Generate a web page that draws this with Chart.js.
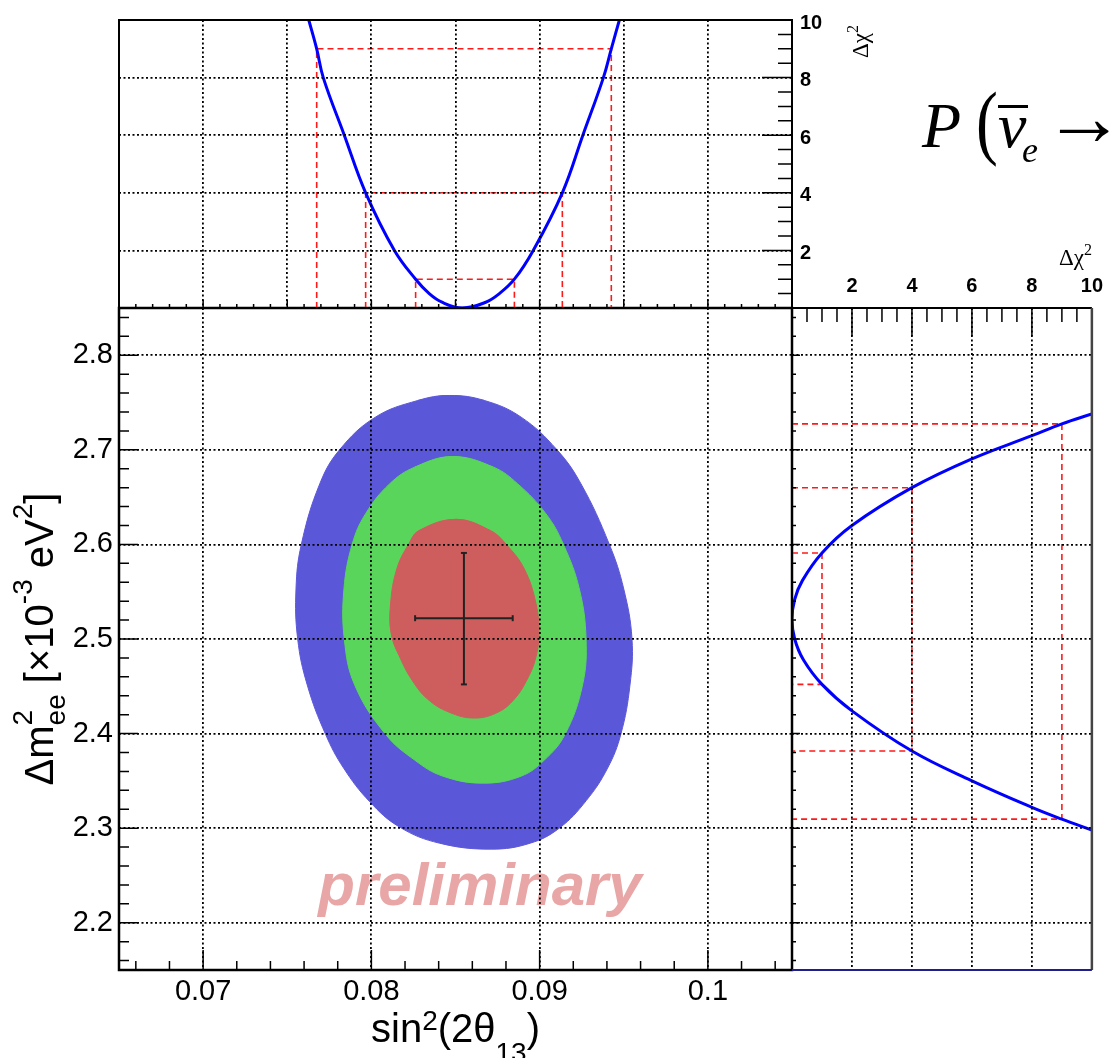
<!DOCTYPE html>
<html>
<head>
<meta charset="utf-8">
<script src="https://cdn.jsdelivr.net/npm/chart.js@4.4.1/dist/chart.umd.min.js"></script>
<style>
  html, body { margin: 0; padding: 0; background: #fff; overflow: hidden; }
  #wrap { position: relative; width: 1113px; height: 1058px; }
  #wrap canvas { position: absolute; left: 0; top: 0; }
</style>
</head>
<body>
<div id="wrap">
  <canvas id="mainChart" width="1113" height="1058"></canvas>
  <canvas id="topChart" width="1113" height="1058"></canvas>
  <canvas id="sideChart" width="1113" height="1058"></canvas>
</div>
<script>
'use strict';

Chart.defaults.font.family = '"Liberation Sans", Arial, sans-serif';
Chart.defaults.color = '#000';

// axis ranges and labelled ticks
const sinRange = [0.065, 0.105];
const dmRange = [2.15, 2.85];
const chiRange = [0, 10];
const sinTicks = [0.07, 0.08, 0.09, 0.1];
const sinTicksTop = [0.07, 0.075, 0.08, 0.085, 0.09, 0.095, 0.1];
const dmTicks = [2.2, 2.3, 2.4, 2.5, 2.6, 2.7, 2.8];
const chiTicks = [2, 4, 6, 8, 10];

// best fit with 1 sigma errors
const bestSin = 0.0855;
const bestDm = 2.522;
const sinErr = [0.0826, 0.0884];
const dmErr = [2.452, 2.591];

// allowed regions, 3 sigma / 2 sigma / 1 sigma (clockwise from the top)
const c3Sin = [0.08464, 0.08672, 0.08890, 0.09102, 0.09246, 0.09414, 0.09500, 0.09549, 0.09537, 0.09483,
  0.09404, 0.09277, 0.09117, 0.08944, 0.08712, 0.08405, 0.08168, 0.07990, 0.07835, 0.07727,
  0.07619, 0.07562, 0.07552, 0.07584, 0.07693, 0.07812, 0.08024, 0.08276];
const c3Dm = [2.7575, 2.7522, 2.7346, 2.7003, 2.6640, 2.6002, 2.5529, 2.5000, 2.4513, 2.3995,
  2.3635, 2.3291, 2.3000, 2.2841, 2.2778, 2.2841, 2.3011, 2.3280, 2.3635, 2.3995,
  2.4513, 2.5000, 2.5529, 2.6002, 2.6640, 2.7003, 2.7346, 2.7522];
const c2Sin = [0.08484, 0.08726, 0.08870, 0.09038, 0.09141, 0.09236, 0.09276, 0.09255, 0.09152, 0.09028,
  0.08890, 0.08666, 0.08425, 0.08257, 0.08083, 0.07901, 0.07839, 0.07837, 0.07886, 0.07965,
  0.08108, 0.08257];
const c2Dm = [2.6929, 2.6817, 2.6640, 2.6323, 2.6002, 2.5529, 2.5000, 2.4513, 2.3995, 2.3720,
  2.3550, 2.3476, 2.3550, 2.3720, 2.3995, 2.4513, 2.5000, 2.5529, 2.6002, 2.6323,
  2.6640, 2.6817];
const c1Sin = [0.08504, 0.08708, 0.08801, 0.08909, 0.08979, 0.08996, 0.08975, 0.08921, 0.08850, 0.08755,
  0.08613, 0.08459, 0.08334, 0.08245, 0.08174, 0.08118, 0.08114, 0.08151, 0.08221, 0.08283];
const c1Dm = [2.6265, 2.6146, 2.6002, 2.5741, 2.5370, 2.5053, 2.4788, 2.4556, 2.4365, 2.4228,
  2.4164, 2.4228, 2.4365, 2.4556, 2.4788, 2.5053, 2.5370, 2.5741, 2.6002, 2.6146];

// 1D delta chi2 profiles
const profSin = [0.07628, 0.07675, 0.07714, 0.07839, 0.07966, 0.08137, 0.08263, 0.08344, 0.0842,
  0.08542, 0.0868, 0.08761, 0.0885, 0.08962, 0.09135, 0.09257, 0.09379, 0.09426, 0.09474];
const profSinChi = [10, 9, 8, 6, 4, 2, 1, 0.5, 0.2, 0, 0.2, 0.5, 1, 2, 4, 6, 8, 9, 10];
const profDm = [2.738, 2.7275, 2.715, 2.6905, 2.660, 2.620, 2.591, 2.562, 2.542, 2.521, 2.500, 2.478,
  2.452, 2.424, 2.3815, 2.350, 2.322, 2.3095, 2.298];
const profDmChi = [10, 9, 8, 6, 4, 2, 1, 0.35, 0.09, 0, 0.09, 0.38, 1, 2, 4, 6, 8, 9, 10];

// crossings at delta chi2 = 1, 4, 9
const chiLevels = [1, 4, 9];
const sinLow = [0.08263, 0.07966, 0.07675];
const sinHigh = [0.0885, 0.09135, 0.09426];
const dmLow = [2.452, 2.3815, 2.3095];
const dmHigh = [2.591, 2.660, 2.7275];

const BLUE_FILL = '#5b57d9';
const GREEN_FILL = '#58d55a';
const RED_FILL = '#ce5e5e';

function pts(xs, ys) {
  return xs.map((x, i) => ({ x: x, y: ys[i] }));
}

// wrap one point on each side so the spline has no corner where the loop closes
function closed(xs, ys) {
  const p = pts(xs, ys);
  return [p[p.length - 1]].concat(p, [p[0], p[1]]);
}

function fixedTicks(values) {
  return scale => { scale.ticks = values.map(v => ({ value: v })); };
}

function region(xs, ys, color) {
  return {
    data: closed(xs, ys), showLine: true, fill: 'shape', tension: 0.4,
    backgroundColor: color, borderColor: color, borderWidth: 1, pointRadius: 0
  };
}

function dashed(points) {
  return {
    data: points, showLine: true, borderColor: '#ff1a1a', borderWidth: 1.6,
    borderDash: [6, 4], pointRadius: 0, tension: 0
  };
}

const dottedGrid = { color: '#000', lineWidth: 1.8, drawTicks: false, z: 1 };
const gridBorder = { display: false, dash: [2, 2.5] };

// inward tick marks; i runs over integer multiples of step
function tickMarks(ctx, scale, from, to, step, majorEvery, edge, majorLen, minorLen, dir) {
  ctx.beginPath();
  for (let i = from; i <= to; i++) {
    const p = scale.getPixelForValue(i * step);
    const len = i % majorEvery === 0 ? majorLen : minorLen;
    if (scale.isHorizontal()) {
      ctx.moveTo(p, edge);
      ctx.lineTo(p, edge + dir * len);
    } else {
      ctx.moveTo(edge, p);
      ctx.lineTo(edge + dir * len, p);
    }
  }
  ctx.stroke();
}

// text with super/subscripts, drawn around the origin on baseline y = 0
function richText(ctx, parts, opt) {
  const big = opt.size + 'px ' + opt.family;
  const small = Math.round(opt.size * 0.7) + 'px ' + opt.family;
  const widthOf = p => {
    if (p.t) { ctx.font = big; return ctx.measureText(p.t).width; }
    ctx.font = small;
    return Math.max(p.sup ? ctx.measureText(p.sup).width : 0, p.sub ? ctx.measureText(p.sub).width : 0);
  };
  const total = parts.reduce((s, p) => s + widthOf(p), 0);
  let x = opt.align === 'left' ? 0 : opt.align === 'right' ? -total : -total / 2;
  ctx.textAlign = 'left';
  ctx.textBaseline = 'alphabetic';
  for (const p of parts) {
    const w = widthOf(p);
    if (p.t) {
      ctx.font = big;
      ctx.fillText(p.t, x, 0);
    } else {
      ctx.font = small;
      if (p.sup) ctx.fillText(p.sup, x, -opt.raise);
      if (p.sub) ctx.fillText(p.sub, x, opt.drop);
    }
    x += w;
  }
}

const mainDecor = {
  id: 'mainDecor',
  afterDatasetsDraw(chart) {
    const ctx = chart.ctx;
    ctx.save();
    ctx.font = 'italic bold 60px "Liberation Sans"';
    ctx.fillStyle = '#e8a6a6';
    ctx.textAlign = 'center';
    ctx.textBaseline = 'alphabetic';
    ctx.fillText('preliminary', 480, 905);
    ctx.restore();
  },
  afterDraw(chart) {
    const { ctx, chartArea: a, scales: { x, y } } = chart;
    ctx.save();
    ctx.strokeStyle = '#000';
    ctx.lineWidth = 1.5;
    tickMarks(ctx, y, 108, 142, 0.02, 5, a.left, 19, 10, 1);
    tickMarks(ctx, x, 33, 52, 0.002, 5, a.bottom, 20, 9, -1);
    ctx.lineWidth = 2.5;
    ctx.strokeRect(a.left, a.top, a.right - a.left, a.bottom - a.top);

    ctx.fillStyle = '#000';
    ctx.save();
    ctx.translate((a.left + a.right) / 2, 1042);
    richText(ctx, [{ t: 'sin' }, { sup: '2' }, { t: '(2θ' }, { sub: '13' }, { t: ')' }],
      { size: 40, family: '"Liberation Sans"', raise: 12, drop: 20, align: 'center' });
    ctx.restore();
    ctx.save();
    ctx.translate(53, (a.top + a.bottom) / 2);
    ctx.rotate(-Math.PI / 2);
    richText(ctx, [{ t: 'Δm' }, { sup: '2', sub: 'ee' }, { t: ' [×10' }, { sup: '-3' }, { t: ' eV' }, { sup: '2' }, { t: ']' }],
      { size: 40, family: '"Liberation Sans"', raise: 21, drop: 12, align: 'center' });
    ctx.restore();
    ctx.restore();
  }
};

function drawFormula(ctx) {
  ctx.save();
  ctx.fillStyle = '#000';
  ctx.textAlign = 'left';
  ctx.textBaseline = 'alphabetic';
  ctx.font = 'italic 64px "Liberation Serif"';
  ctx.fillText('P', 922, 147);
  ctx.save();
  ctx.translate(976, 149);
  ctx.scale(0.8, 1);
  ctx.font = '82px "Liberation Serif"';
  ctx.fillText('(', 0, 0);
  ctx.restore();
  ctx.font = 'italic 64px "Liberation Serif"';
  ctx.fillText('ν', 998, 147);
  ctx.fillRect(998, 105, 30, 3);
  ctx.font = 'italic 36px "Liberation Serif"';
  ctx.fillText('e', 1022, 162);
  ctx.font = '82px "Liberation Serif"';
  ctx.fillText('→', 1043, 145);
  ctx.restore();
}

const topDecor = {
  id: 'topDecor',
  afterDraw(chart) {
    const { ctx, chartArea: a, scales: { x, y } } = chart;
    ctx.save();
    ctx.strokeStyle = '#000';
    ctx.lineWidth = 1.5;
    tickMarks(ctx, x, 66, 104, 0.001, 5, a.bottom, 8, 4, -1);
    tickMarks(ctx, y, 1, 19, 0.5, 4, a.right, 30, 14, -1);
    ctx.lineWidth = 2;
    ctx.strokeRect(a.left, a.top, a.right - a.left, a.bottom - a.top);

    ctx.fillStyle = '#000';
    ctx.save();
    ctx.translate(868, 58);
    ctx.rotate(-Math.PI / 2);
    richText(ctx, [{ t: 'Δχ' }, { sup: '2' }],
      { size: 23, family: '"Liberation Serif"', raise: 10, drop: 0, align: 'left' });
    ctx.restore();
    ctx.restore();
    drawFormula(ctx);
  }
};

const sideDecor = {
  id: 'sideDecor',
  afterDraw(chart) {
    const { ctx, chartArea: a, scales: { x, y } } = chart;
    ctx.save();
    ctx.strokeStyle = '#000';
    ctx.lineWidth = 1.5;
    tickMarks(ctx, x, 1, 19, 0.5, 4, a.top, 28, 14, 1);
    tickMarks(ctx, y, 108, 142, 0.02, 5, a.left, 8, 4, 1);
    ctx.lineWidth = 2;
    ctx.beginPath();
    ctx.moveTo(a.left, a.bottom);
    ctx.lineTo(a.left, a.top);
    ctx.lineTo(a.right, a.top);
    ctx.stroke();
    ctx.strokeStyle = '#444';
    ctx.lineWidth = 2.5;
    ctx.beginPath();
    ctx.moveTo(a.right, a.top);
    ctx.lineTo(a.right, a.bottom);
    ctx.stroke();
    ctx.strokeStyle = '#1e1e8c';
    ctx.lineWidth = 2;
    ctx.beginPath();
    ctx.moveTo(a.left, a.bottom);
    ctx.lineTo(a.right, a.bottom);
    ctx.stroke();

    ctx.fillStyle = '#000';
    ctx.save();
    ctx.translate(a.right, 265);
    richText(ctx, [{ t: 'Δχ' }, { sup: '2' }],
      { size: 23, family: '"Liberation Serif"', raise: 10, drop: 0, align: 'right' });
    ctx.restore();
    ctx.restore();
  }
};

const commonOpts = {
  responsive: false,
  animation: false,
  events: [],
  plugins: { legend: { display: false }, tooltip: { enabled: false } }
};

// sin2(2theta13) vs dm2ee allowed regions
new Chart(document.getElementById('mainChart'), {
  type: 'scatter',
  data: {
    datasets: [
      {
        data: [{ x: sinErr[0], y: bestDm }, { x: sinErr[1], y: bestDm }],
        showLine: true, borderColor: '#222', borderWidth: 2,
        pointStyle: 'line', pointRadius: 3, pointRotation: 90, pointBorderWidth: 2, pointBorderColor: '#222'
      },
      {
        data: [{ x: bestSin, y: dmErr[0] }, { x: bestSin, y: dmErr[1] }],
        showLine: true, borderColor: '#222', borderWidth: 2,
        pointStyle: 'line', pointRadius: 3, pointRotation: 0, pointBorderWidth: 2, pointBorderColor: '#222'
      },
      region(c1Sin, c1Dm, RED_FILL),
      region(c2Sin, c2Dm, GREEN_FILL),
      region(c3Sin, c3Dm, BLUE_FILL)
    ]
  },
  options: Object.assign({}, commonOpts, {
    layout: { padding: { top: 308, right: 321, bottom: 0, left: 0 }, autoPadding: false },
    scales: {
      x: {
        type: 'linear', min: sinRange[0], max: sinRange[1],
        afterBuildTicks: fixedTicks(sinTicks),
        afterFit: s => { s.height = 88; },
        grid: dottedGrid, border: gridBorder,
        ticks: { font: { size: 29 }, padding: 5, maxRotation: 0, autoSkip: false, callback: v => String(v) }
      },
      y: {
        type: 'linear', min: dmRange[0], max: dmRange[1],
        afterBuildTicks: fixedTicks(dmTicks),
        afterFit: s => { s.width = 119; },
        grid: dottedGrid, border: gridBorder,
        ticks: { font: { size: 29 }, padding: 6, autoSkip: false, callback: v => String(v) }
      }
    }
  }),
  plugins: [mainDecor]
});

// delta chi2 profile over sin2(2theta13)
new Chart(document.getElementById('topChart'), {
  type: 'scatter',
  data: {
    datasets: [
      {
        data: pts(profSin, profSinChi), showLine: true, tension: 0.4,
        borderColor: '#0000ff', borderWidth: 3, pointRadius: 0
      }
    ].concat(chiLevels.map((lvl, i) => dashed([
      { x: sinLow[i], y: 0 }, { x: sinLow[i], y: lvl }, { x: sinHigh[i], y: lvl }, { x: sinHigh[i], y: 0 }
    ])))
  },
  options: Object.assign({}, commonOpts, {
    layout: { padding: { top: 12, right: 0, bottom: 750, left: 119 }, autoPadding: false },
    scales: {
      x: {
        type: 'linear', min: sinRange[0], max: sinRange[1],
        afterBuildTicks: fixedTicks(sinTicksTop),
        afterFit: s => { s.height = 0; },
        grid: dottedGrid, border: gridBorder,
        ticks: { display: false }
      },
      y: {
        type: 'linear', position: 'right', min: chiRange[0], max: chiRange[1],
        afterBuildTicks: fixedTicks(chiTicks),
        afterFit: s => { s.width = 321; },
        grid: dottedGrid, border: gridBorder,
        ticks: { font: { size: 20, weight: 'bold' }, padding: 8, labelOffset: 3, autoSkip: false, callback: v => String(v) }
      }
    }
  }),
  plugins: [topDecor]
});

// delta chi2 profile over dm2ee
new Chart(document.getElementById('sideChart'), {
  type: 'scatter',
  data: {
    datasets: [
      {
        data: pts(profDmChi, profDm), showLine: true, tension: 0.4,
        borderColor: '#0000ff', borderWidth: 3, pointRadius: 0
      }
    ].concat(chiLevels.map((lvl, i) => dashed([
      { x: 0, y: dmHigh[i] }, { x: lvl, y: dmHigh[i] }, { x: lvl, y: dmLow[i] }, { x: 0, y: dmLow[i] }
    ])))
  },
  options: Object.assign({}, commonOpts, {
    layout: { padding: { top: 0, right: 16, bottom: 88, left: 792 }, autoPadding: false },
    scales: {
      x: {
        type: 'linear', position: 'top', min: chiRange[0], max: chiRange[1],
        afterBuildTicks: fixedTicks(chiTicks),
        afterFit: s => { s.height = 308; },
        grid: dottedGrid, border: gridBorder,
        ticks: { font: { size: 20, weight: 'bold' }, padding: 10, maxRotation: 0, autoSkip: false, callback: v => String(v) }
      },
      y: {
        type: 'linear', min: dmRange[0], max: dmRange[1],
        afterBuildTicks: fixedTicks(dmTicks),
        afterFit: s => { s.width = 0; },
        grid: dottedGrid, border: gridBorder,
        ticks: { display: false }
      }
    }
  }),
  plugins: [sideDecor]
});
</script>
</body>
</html>
